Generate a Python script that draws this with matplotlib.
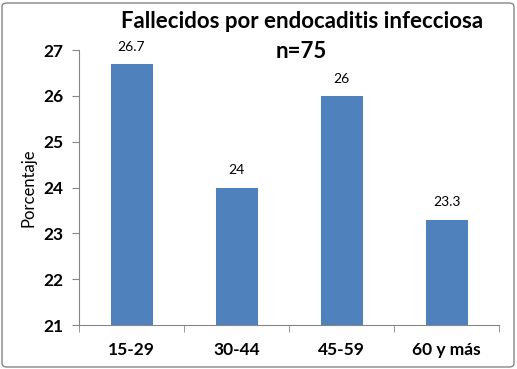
import matplotlib
matplotlib.use("Agg")
import matplotlib.pyplot as plt
from matplotlib.patches import FancyBboxPatch

categories = ["15-29", "30-44", "45-59", "60 y más"]
values = [26.7, 24, 26, 23.3]
labels = ["26.7", "24", "26", "23.3"]
yticks = [21, 22, 23, 24, 25, 26, 27]

plt.rcParams['font.family'] = ['Lato', 'DejaVu Sans']

fig = plt.figure(figsize=(5.17, 3.69), dpi=100)
ax = fig.add_axes([79/517, 1-325/369, 420/517, 275/369])

x = list(range(len(categories)))
bars = ax.bar(x, values, width=0.4, color="#4F81BD", bottom=0)
ax.set_ylim(21, 27)
ax.set_xlim(-0.5, len(categories) - 0.5)
ax.set_yticks(yticks)
ax.set_yticklabels([str(t) for t in yticks], fontweight='bold', fontsize=12.5)
ax.set_xticks(x)
ax.set_xticklabels(categories, fontweight='bold', fontsize=12.5)
ax.set_xticks([i + 0.5 for i in range(-1, len(categories))], minor=True)
ax.tick_params(axis='x', which='major', length=0, pad=12)
ax.tick_params(axis='x', which='minor', length=5, color='#868686', direction='out')
ax.tick_params(axis='y', length=5, color='#868686', direction='out', pad=6)
for s in ['top', 'right']:
    ax.spines[s].set_visible(False)
for s in ['left', 'bottom']:
    ax.spines[s].set_color('#868686')
ax.set_ylabel("Porcentaje", fontsize=12, labelpad=5)

for xi, v, lab in zip(x, values, labels):
    ax.annotate(lab, (xi, v), xytext=(0, 8), textcoords='offset points',
                ha='center', va='bottom', fontsize=10)

fig.text(302/517, 1-21/369, "Fallecidos por endocaditis infecciosa", ha='center', va='center',
         fontsize=16, fontweight='bold')
fig.text(301/517, 1-52/369, "n=75", ha='center', va='center', fontsize=16, fontweight='bold')

border = FancyBboxPatch((2/517, 2/369), 512/517, 364/369, boxstyle="round,pad=0,rounding_size=0.01",
                        transform=fig.transFigure, fill=False, edgecolor='#868686', linewidth=1)
fig.patches.append(border)

fig.savefig("out.png", dpi=100)
